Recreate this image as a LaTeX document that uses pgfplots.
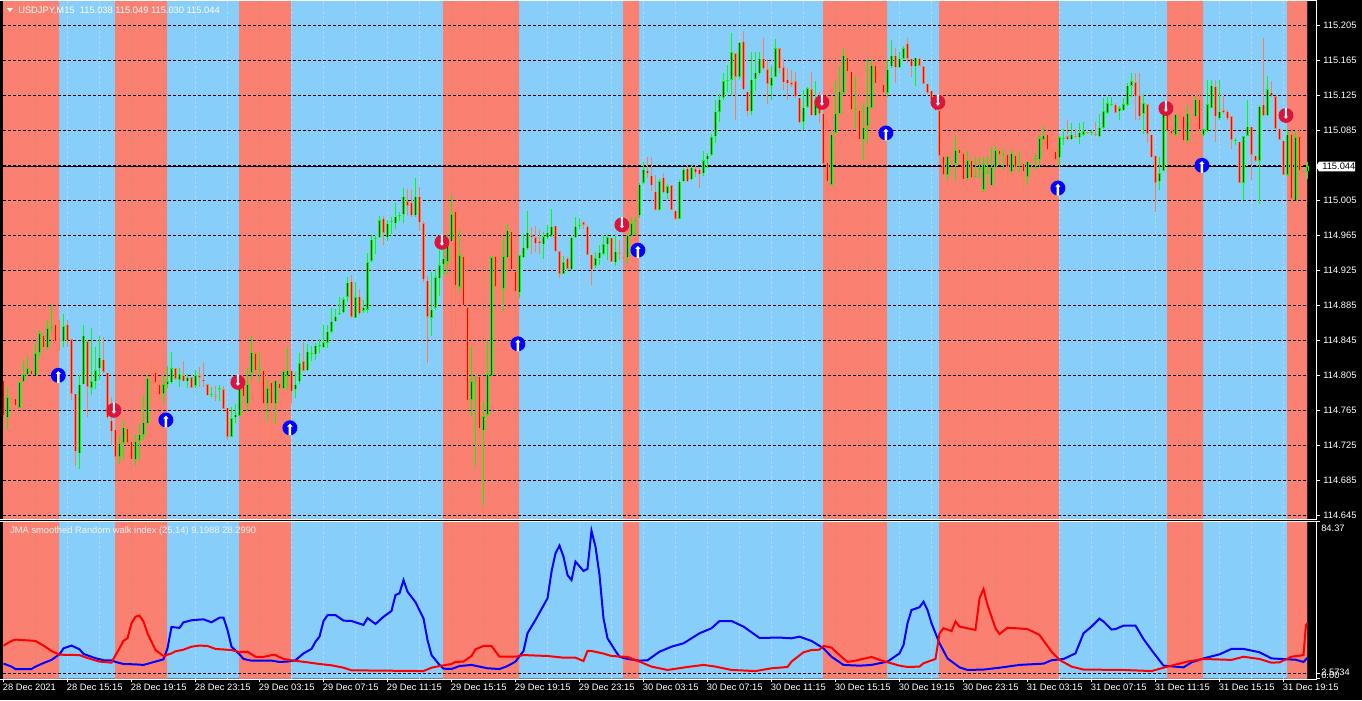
\documentclass[border=0pt]{standalone}
\usepackage{fontspec}
\setmainfont{Liberation Sans}
\usepackage{pgfplots}
\usepackage{pgfplotstable}
\pgfplotsset{compat=1.18}

\definecolor{zonered}{RGB}{250,128,114}
\definecolor{zoneblue}{RGB}{135,206,250}
\definecolor{bull}{RGB}{0,255,0}
\definecolor{bullcore}{RGB}{0,60,0}
\definecolor{bear}{RGB}{255,127,80}
\definecolor{bearcore}{RGB}{255,0,0}
\definecolor{sigblue}{RGB}{0,0,255}
\definecolor{sigred}{RGB}{220,20,60}
\definecolor{vgridred}{RGB}{222,132,118}
\definecolor{vgridblue}{RGB}{172,216,250}

% signal arrows, 1px = 0.75pt
\pgfdeclareplotmark{sigup}{%
  \pgfsetfillcolor{sigblue}\pgfpathcircle{\pgfpointorigin}{5.6pt}\pgfusepathqfill
  \pgfsetfillcolor{white}%
  \pgfpathmoveto{\pgfpoint{0pt}{3.2pt}}\pgfpathlineto{\pgfpoint{2pt}{1pt}}%
  \pgfpathlineto{\pgfpoint{0.9pt}{1pt}}\pgfpathlineto{\pgfpoint{0.9pt}{-5.7pt}}%
  \pgfpathlineto{\pgfpoint{-0.9pt}{-5.7pt}}\pgfpathlineto{\pgfpoint{-0.9pt}{1pt}}%
  \pgfpathlineto{\pgfpoint{-2pt}{1pt}}\pgfpathclose\pgfusepathqfill}
\pgfdeclareplotmark{sigdn}{%
  \pgfsetfillcolor{sigred}\pgfpathcircle{\pgfpointorigin}{5.6pt}\pgfusepathqfill
  \pgfsetfillcolor{white}%
  \pgfpathmoveto{\pgfpoint{0pt}{-2.6pt}}\pgfpathlineto{\pgfpoint{1.6pt}{-0.8pt}}%
  \pgfpathlineto{\pgfpoint{0.8pt}{-0.8pt}}\pgfpathlineto{\pgfpoint{0.8pt}{5.7pt}}%
  \pgfpathlineto{\pgfpoint{-0.8pt}{5.7pt}}\pgfpathlineto{\pgfpoint{-0.8pt}{-0.8pt}}%
  \pgfpathlineto{\pgfpoint{-1.6pt}{-0.8pt}}\pgfpathclose\pgfusepathqfill}

\newcommand{\lab}{\fontsize{7}{8}\selectfont}

% red zones of the background: bar index, 1 = red
\pgfplotstableread{
x r
-0.125 1
13.875 0
27.875 1
40.875 0
58.875 1
71.875 0
109.875 1
128.875 0
154.875 1
158.875 0
204.875 1
220.875 0
233.875 1
263.875 0
290.875 1
299.875 0
320.875 1
325.875 1
}\zones

\pgfplotstableread{
i o h l c
1 114.757 114.792 114.744 114.780
4 114.768 114.799 114.768 114.797
5 114.798 114.821 114.797 114.806
6 114.806 114.827 114.805 114.813
8 114.805 114.842 114.805 114.830
9 114.831 114.857 114.825 114.853
11 114.837 114.868 114.834 114.859
12 114.859 114.885 114.856 114.860
15 114.844 114.875 114.837 114.861
19 114.716 114.805 114.698 114.794
20 114.795 114.863 114.795 114.850
22 114.791 114.859 114.782 114.798
23 114.798 114.837 114.789 114.811
24 114.813 114.850 114.800 114.825
29 114.712 114.736 114.704 114.727
30 114.728 114.753 114.708 114.745
33 114.709 114.738 114.702 114.729
34 114.730 114.748 114.708 114.737
35 114.737 114.781 114.731 114.751
36 114.750 114.805 114.749 114.801
40 114.784 114.805 114.774 114.795
41 114.795 114.816 114.790 114.798
42 114.797 114.832 114.795 114.813
44 114.800 114.813 114.792 114.806
46 114.798 114.806 114.790 114.802
48 114.793 114.811 114.791 114.805
52 114.782 114.792 114.780 114.783
54 114.789 114.794 114.776 114.790
57 114.735 114.769 114.734 114.756
58 114.757 114.772 114.750 114.760
59 114.759 114.796 114.758 114.795
61 114.773 114.813 114.764 114.795
62 114.808 114.850 114.797 114.831
64 114.811 114.831 114.799 114.812
66 114.773 114.801 114.753 114.790
68 114.773 114.799 114.749 114.799
70 114.790 114.811 114.789 114.809
71 114.805 114.837 114.788 114.810
73 114.789 114.809 114.779 114.794
74 114.798 114.830 114.795 114.819
76 114.811 114.841 114.810 114.832
77 114.829 114.839 114.821 114.830
78 114.829 114.842 114.823 114.839
79 114.838 114.846 114.830 114.839
80 114.837 114.862 114.836 114.843
81 114.842 114.862 114.836 114.855
82 114.855 114.882 114.853 114.866
83 114.867 114.881 114.866 114.872
84 114.875 114.894 114.874 114.876
85 114.877 114.895 114.876 114.892
86 114.895 114.917 114.889 114.911
88 114.871 114.912 114.870 114.894
90 114.879 114.891 114.876 114.882
91 114.880 114.945 114.876 114.934
92 114.936 114.965 114.934 114.960
93 114.961 114.965 114.944 114.962
94 114.963 114.987 114.962 114.982
96 114.963 114.982 114.958 114.978
97 114.980 114.986 114.967 114.981
98 114.979 115.002 114.972 114.986
99 114.987 114.992 114.981 114.988
100 114.989 115.019 114.979 115.009
103 114.988 115.030 114.986 115.009
107 114.871 114.923 114.850 114.880
108 114.882 114.927 114.880 114.917
109 114.916 114.948 114.896 114.931
110 114.932 114.954 114.921 114.938
111 114.935 114.967 114.921 114.954
112 114.958 115.011 114.958 114.989
114 114.906 114.971 114.899 114.942
117 114.777 114.838 114.758 114.798
118 114.802 114.805 114.700 114.803
120 114.742 114.775 114.657 114.758
121 114.760 114.845 114.758 114.806
122 114.805 114.941 114.804 114.940
125 114.904 114.962 114.878 114.941
126 114.940 114.978 114.939 114.970
129 114.900 114.943 114.893 114.942
130 114.940 114.967 114.939 114.951
131 114.950 114.993 114.948 114.968
135 114.955 114.969 114.938 114.964
136 114.963 114.977 114.961 114.968
137 114.965 114.995 114.963 114.975
140 114.921 114.941 114.921 114.934
142 114.926 114.963 114.925 114.962
143 114.963 114.986 114.962 114.975
144 114.976 114.985 114.972 114.977
148 114.930 114.946 114.928 114.939
149 114.939 114.954 114.931 114.945
150 114.944 114.965 114.942 114.955
151 114.955 114.965 114.937 114.963
153 114.934 114.967 114.930 114.946
156 114.940 114.965 114.932 114.965
157 114.965 114.986 114.963 114.979
158 114.981 114.986 114.965 114.982
159 114.988 115.025 114.985 115.023
160 115.025 115.049 115.024 115.040
164 114.994 115.029 114.993 115.027
166 115.013 115.024 115.007 115.021
169 114.984 115.028 114.984 115.026
170 115.027 115.042 115.026 115.040
172 115.029 115.045 115.028 115.042
175 115.036 115.061 115.033 115.051
176 115.052 115.059 115.042 115.056
177 115.057 115.081 115.056 115.077
178 115.078 115.120 115.070 115.106
179 115.106 115.127 115.095 115.120
180 115.122 115.150 115.120 115.141
181 115.141 115.160 115.129 115.142
182 115.143 115.196 115.125 115.174
184 115.146 115.186 115.144 115.185
187 115.107 115.175 115.102 115.143
188 115.144 115.174 115.130 115.151
189 115.150 115.174 115.148 115.167
192 115.136 115.158 115.120 115.145
193 115.146 115.189 115.146 115.179
200 115.095 115.131 115.085 115.111
201 115.112 115.134 115.111 115.133
203 115.102 115.141 115.101 115.120
207 115.023 115.081 115.022 115.080
208 115.082 115.141 115.081 115.104
209 115.104 115.158 115.104 115.129
210 115.128 115.179 115.127 115.170
213 115.109 115.147 115.087 115.110
215 115.075 115.116 115.051 115.088
216 115.090 115.167 115.070 115.112
217 115.111 115.167 115.110 115.159
221 115.128 115.165 115.123 115.154
222 115.158 115.188 115.156 115.170
224 115.157 115.175 115.156 115.167
225 115.167 115.181 115.166 115.179
228 115.158 115.168 115.136 115.168
236 115.034 115.056 115.028 115.055
238 115.047 115.078 115.027 115.062
241 115.030 115.061 115.028 115.051
243 115.032 115.055 115.032 115.033
244 115.041 115.054 115.030 115.042
245 115.017 115.055 115.015 115.046
246 115.036 115.056 115.036 115.037
247 115.022 115.066 115.022 115.042
248 115.043 115.067 115.041 115.062
250 115.057 115.064 115.040 115.058
252 115.038 115.064 115.036 115.058
254 115.044 115.061 115.037 115.045
256 115.032 115.049 115.024 115.049
258 115.052 115.059 115.040 115.053
259 115.052 115.080 115.043 115.076
260 115.075 115.090 115.074 115.079
264 115.054 115.079 115.043 115.077
265 115.075 115.087 115.068 115.076
267 115.075 115.093 115.074 115.080
269 115.077 115.093 115.069 115.082
270 115.080 115.094 115.078 115.084
272 115.082 115.085 115.080 115.083
274 115.078 115.104 115.077 115.088
275 115.088 115.122 115.087 115.107
276 115.105 115.123 115.104 115.116
277 115.114 115.123 115.113 115.115
279 115.107 115.113 115.097 115.110
280 115.108 115.122 115.107 115.115
281 115.114 115.139 115.113 115.136
282 115.136 115.150 115.123 115.141
285 115.104 115.127 115.081 115.116
289 115.027 115.054 115.017 115.036
290 115.039 115.105 115.038 115.104
293 115.080 115.104 115.079 115.103
296 115.073 115.114 115.072 115.104
298 115.101 115.125 115.100 115.120
300 115.080 115.087 115.079 115.086
301 115.085 115.143 115.083 115.115
302 115.111 115.143 115.110 115.136
304 115.099 115.143 115.097 115.106
308 115.073 115.076 115.068 115.074
310 115.025 115.078 115.005 115.078
311 115.079 115.120 115.078 115.089
314 115.050 115.114 115.001 115.112
316 115.102 115.147 115.101 115.132
321 115.034 115.087 115.033 115.080
323 115.005 115.085 115.005 115.077
325 115.037 115.039 115.037 115.038
326 115.038 115.049 115.029 115.044
}\upbars

\pgfplotstableread{
i o h l c
0 114.799 114.799 114.759 114.759
2 114.778 114.780 114.773 114.777
3 114.778 114.780 114.746 114.770
7 114.811 114.811 114.806 114.806
10 114.851 114.851 114.837 114.837
13 114.863 114.863 114.844 114.844
14 114.845 114.868 114.833 114.844
16 114.863 114.868 114.837 114.845
17 114.846 114.846 114.777 114.784
18 114.784 114.784 114.701 114.718
21 114.844 114.844 114.757 114.792
25 114.823 114.849 114.808 114.809
26 114.808 114.808 114.755 114.757
27 114.753 114.780 114.725 114.741
28 114.743 114.743 114.712 114.712
31 114.744 114.744 114.727 114.728
32 114.729 114.729 114.702 114.709
37 114.798 114.820 114.773 114.797
38 114.808 114.818 114.784 114.797
39 114.795 114.800 114.775 114.783
43 114.813 114.813 114.800 114.801
45 114.805 114.821 114.798 114.798
47 114.803 114.803 114.790 114.791
49 114.805 114.814 114.792 114.802
50 114.800 114.820 114.792 114.798
51 114.795 114.795 114.782 114.782
53 114.781 114.793 114.776 114.780
55 114.789 114.793 114.767 114.767
56 114.768 114.768 114.731 114.735
60 114.795 114.797 114.781 114.781
63 114.830 114.830 114.811 114.811
65 114.810 114.810 114.771 114.773
67 114.797 114.797 114.734 114.773
69 114.796 114.796 114.790 114.790
72 114.810 114.810 114.773 114.787
75 114.821 114.843 114.810 114.810
87 114.912 114.920 114.871 114.872
89 114.895 114.904 114.874 114.876
95 114.984 114.987 114.954 114.968
101 115.004 115.018 114.988 114.999
102 115.002 115.017 114.986 114.988
104 115.009 115.020 114.970 114.980
105 114.979 114.981 114.912 114.915
106 114.913 114.918 114.819 114.872
113 114.992 114.992 114.857 114.908
115 114.941 114.941 114.876 114.885
116 114.883 114.883 114.735 114.776
119 114.804 114.804 114.716 114.744
123 114.941 114.941 114.906 114.906
124 114.906 114.907 114.887 114.905
127 114.969 114.969 114.910 114.926
128 114.924 114.924 114.899 114.901
132 114.965 114.975 114.944 114.963
133 114.963 114.976 114.946 114.956
134 114.958 114.971 114.944 114.956
138 114.976 114.976 114.947 114.947
139 114.947 114.947 114.916 114.921
141 114.938 114.940 114.925 114.927
145 114.980 114.981 114.972 114.977
146 114.975 114.977 114.942 114.943
147 114.943 114.943 114.908 114.926
152 114.962 114.962 114.935 114.935
154 114.945 114.960 114.937 114.944
155 114.940 114.941 114.938 114.939
161 115.039 115.054 115.030 115.036
162 115.033 115.055 115.016 115.022
163 115.015 115.034 114.993 114.994
165 115.031 115.036 115.013 115.014
167 115.022 115.022 114.994 114.994
168 114.993 114.993 114.983 114.984
171 115.041 115.045 115.026 115.027
173 115.041 115.045 115.032 115.037
174 115.040 115.042 115.019 115.035
183 115.173 115.173 115.097 115.146
185 115.186 115.199 115.131 115.132
186 115.129 115.129 115.101 115.107
190 115.167 115.191 115.154 115.156
191 115.155 115.167 115.115 115.138
194 115.179 115.179 115.150 115.156
195 115.157 115.167 115.131 115.140
196 115.143 115.156 115.120 115.139
197 115.140 115.154 115.135 115.137
198 115.141 115.152 115.122 115.124
199 115.122 115.122 115.093 115.094
202 115.132 115.152 115.101 115.102
204 115.118 115.129 115.093 115.104
205 115.104 115.104 115.047 115.047
206 115.048 115.048 115.009 115.027
211 115.168 115.183 115.151 115.152
212 115.152 115.152 115.097 115.109
214 115.108 115.135 115.074 115.075
218 115.159 115.181 115.139 115.139
219 115.138 115.159 115.137 115.137
220 115.137 115.137 115.128 115.128
223 115.170 115.179 115.139 115.157
226 115.184 115.190 115.162 115.167
227 115.167 115.167 115.146 115.158
229 115.167 115.168 115.159 115.159
230 115.158 115.159 115.138 115.138
231 115.138 115.138 115.127 115.128
232 115.130 115.130 115.119 115.120
233 115.120 115.120 115.108 115.108
234 115.108 115.108 115.056 115.056
235 115.055 115.055 115.035 115.035
237 115.050 115.050 115.049 115.049
239 115.063 115.074 115.059 115.059
240 115.059 115.059 115.029 115.029
242 115.051 115.051 115.031 115.031
249 115.062 115.064 115.056 115.057
251 115.057 115.059 115.022 115.042
253 115.056 115.056 115.043 115.043
255 115.047 115.047 115.015 115.038
257 115.052 115.055 115.043 115.051
261 115.080 115.080 115.063 115.063
262 115.062 115.064 115.051 115.061
263 115.061 115.061 115.044 115.052
266 115.078 115.097 115.074 115.075
268 115.078 115.087 115.076 115.077
271 115.083 115.083 115.081 115.082
273 115.081 115.095 115.078 115.080
278 115.114 115.116 115.105 115.105
283 115.140 115.151 115.097 115.124
284 115.125 115.150 115.097 115.101
286 115.115 115.115 115.070 115.081
287 115.080 115.080 115.054 115.054
288 115.056 115.056 114.992 115.025
291 115.105 115.105 115.085 115.085
292 115.085 115.085 115.081 115.081
294 115.101 115.120 115.100 115.100
295 115.101 115.103 115.073 115.073
297 115.102 115.102 115.101 115.101
299 115.120 115.125 115.076 115.086
303 115.135 115.143 115.072 115.101
305 115.108 115.127 115.104 115.106
306 115.106 115.108 115.097 115.099
307 115.101 115.101 115.064 115.074
309 115.072 115.072 115.025 115.025
312 115.089 115.089 115.028 115.057
313 115.056 115.056 115.049 115.050
315 115.114 115.190 115.101 115.102
317 115.128 115.141 115.123 115.125
318 115.124 115.124 115.087 115.087
319 115.087 115.087 115.074 115.074
320 115.073 115.073 115.034 115.034
322 115.080 115.080 115.007 115.007
324 115.078 115.091 115.038 115.039
}\dnbars

\pgfplotstableread{
i v
0 8.0
2 6.4
3 5.1
7 5.1
8 6.4
10 8.3
12 10.0
14 13.0
15 16.2
17 17.7
19 15.7
20 13.2
23 10.9
25 9.8
27 9.8
28 8.9
30 7.8
33 7.6
35 7.3
37 8.5
40 10.3
41 16.2
42 27.7
44 27.2
45 30.2
47 31.3
50 31.8
52 30.2
54 32.7
55 32.7
56 26.1
57 17.1
59 13.0
60 10.5
62 9.6
67 9.6
69 8.9
71 9.1
73 9.8
75 13.5
77 15.9
78 19.8
79 22.5
80 30.9
81 34.0
83 34.1
85 31.1
87 30.9
90 28.8
91 32.5
93 29.3
95 33.2
97 36.3
98 44.9
99 45.8
100 52.9
101 46.7
103 41.0
105 32.3
106 20.7
107 12.6
109 7.3
110 5.3
112 5.1
114 6.7
117 7.3
121 5.5
124 5.1
126 6.7
128 9.1
130 14.8
131 24.3
133 31.5
136 43.1
137 57.4
138 67.3
139 71.4
140 65.5
141 55.6
142 52.9
143 62.8
145 57.8
146 58.9
147 79.4
148 70.8
149 55.6
150 32.3
151 21.6
153 14.8
154 11.7
156 10.5
159 9.6
161 9.8
164 14.4
167 17.1
170 18.9
174 24.3
177 27.0
179 30.9
182 30.9
185 27.9
189 21.8
194 22.0
197 21.6
199 22.5
202 20.2
205 16.2
207 11.7
210 7.3
214 6.9
217 7.3
221 9.1
224 13.5
225 18.0
226 29.7
227 36.8
229 38.3
230 41.3
231 36.8
232 29.7
234 18.9
236 10.8
239 6.0
241 4.6
245 4.8
249 5.8
254 7.3
260 8.0
262 9.8
265 10.5
268 13.5
270 24.3
272 27.9
274 32.2
275 30.6
277 26.3
278 26.6
280 28.4
283 28.4
285 21.2
287 15.3
290 6.9
295 6.0
297 8.7
300 10.8
304 13.0
307 15.9
310 15.9
314 14.1
317 10.8
323 10.1
325 8.9
326 11.2
}\rwiblue

\pgfplotstableread{
i v
0 17.7
2 20.2
3 20.9
6 20.5
8 20.2
10 17.7
12 14.8
14 12.8
19 12.6
21 11.0
24 9.1
27 8.5
28 12.6
29 16.2
30 20.3
31 21.6
32 29.7
33 33.2
34 33.8
35 30.6
36 24.3
38 15.3
40 12.1
42 13.5
43 14.6
45 15.5
47 17.1
49 17.7
51 17.5
53 15.9
57 15.3
59 14.2
61 14.4
63 11.7
65 11.6
67 12.6
68 12.6
70 10.5
72 9.8
76 8.7
79 7.8
82 7.1
85 5.8
87 4.4
105 4.0
107 5.8
109 6.7
112 7.8
113 8.9
115 9.1
117 12.1
118 15.7
120 17.5
122 17.5
124 11.7
128 11.7
130 12.6
136 12.1
140 11.2
143 11.2
145 9.4
146 14.8
147 14.8
150 13.4
152 12.1
156 11.6
159 9.1
162 6.4
166 4.6
171 6.2
175 7.3
178 6.4
182 4.6
188 4.0
192 5.5
196 6.2
197 9.1
200 14.1
202 15.3
204 15.5
205 17.5
207 16.6
209 12.6
211 8.9
213 9.6
217 11.6
219 10.0
224 6.9
226 6.2
229 6.4
230 8.2
233 10.5
234 24.3
235 27.0
237 25.5
238 30.6
239 27.9
243 26.1
244 43.1
245 48.1
246 39.5
248 27.0
249 23.9
251 27.3
256 26.6
259 23.4
262 14.4
264 10.0
267 6.4
270 4.8
280 4.6
287 4.0
291 6.4
296 9.1
300 10.5
307 10.0
310 11.7
314 10.5
317 8.5
319 8.7
322 11.7
325 12.6
325.6 28.8
326 29.7
}\rwired

% background shared by both panels: #1 = ymin, #2 = ymax
\newcommand{\panelback}[2]{%
  \addplot[const plot, fill=zoneblue, draw=none, forget plot]
    coordinates {(-0.125,#2)(325.875,#2)} \closedcycle;
  \addplot[const plot, fill=zonered, draw=none, forget plot]
    table[x=x, y expr={\thisrow{r}>0 ? #2 : #1}] {\zones} \closedcycle;
  \pgfplotsinvokeforeach{8,32,40,64,112,120,128,208,216,240,248,256,296}{
    \addplot[vgridred, line width=0.75pt, dash pattern=on 2.25pt off 1.5pt, forget plot]
      coordinates {(##1,#1)(##1,#2)};
  }
  \pgfplotsinvokeforeach{16,24,48,56,72,80,88,96,104,136,144,152,160,168,176,184,192,200,224,232,264,272,280,288,304,312,320}{
    \addplot[vgridblue, line width=0.75pt, dash pattern=on 2.25pt off 1.5pt, forget plot]
      coordinates {(##1,#1)(##1,#2)};
  }
}

\pgfplotsset{
  panel/.style={
    scale only axis, width=985.5pt,
    xmin=-0.125, xmax=328.375,
    anchor=south west,
    axis line style={draw=none},
    tick style={white, line width=0.75pt},
    major tick length=2.6pt,
    tick align=outside,
    tick label style={font=\lab, text=white, inner sep=0pt},
    /pgf/number format/assume math mode=true,
  },
  candle/.style 2 args={only marks, mark size=0pt, mark options={draw=none, fill=none}, forget plot,
    error bars/y dir=plus, error bars/y explicit, error bars/error mark=none,
    error bars/error bar style={line width=#1, color=#2}},
}

\begin{document}
\begin{tikzpicture}[x=0.75pt,y=-0.75pt]
\path[use as bounding box, fill=black] (0,0) rectangle (1362,700);

\begin{axis}[panel,
    at={(2.25pt,-389.25pt)}, height=388.5pt,
    ymin=114.6408, ymax=115.2328,
    xtick=\empty,
    ytick={114.645,114.685,114.725,114.765,114.805,114.845,114.885,114.925,114.965,115.005,115.085,115.125,115.165,115.205},
    ytick pos=right, yticklabel pos=right,
    yticklabel style={anchor=west, xshift=2pt,
      /pgf/number format/.cd, fixed, fixed zerofill, precision=3, 1000 sep={}},
  ]
  \panelback{114.6408}{115.2328}
  \pgfplotsinvokeforeach{114.645,114.685,114.725,114.765,114.805,114.845,114.885,114.925,114.965,115.005,115.045,115.085,115.125,115.165,115.205}{
    \addplot[black, line width=0.75pt, dash pattern=on 2.25pt off 1.5pt, forget plot]
      coordinates {(-0.125,#1)(325.875,#1)};
  }
  \addplot[black, line width=0.75pt, forget plot] coordinates {(-0.125,115.044)(325.875,115.044)};

  % wicks
  \addplot[candle={0.75pt}{bull}]
    table[x=i, y=l, y error expr=\thisrow{h}-\thisrow{l}] {\upbars};
  \addplot[candle={0.75pt}{bear}]
    table[x=i, y=l, y error expr=\thisrow{h}-\thisrow{l}] {\dnbars};
  % bodies
  \addplot[candle={2.25pt}{bull}]
    table[x=i, y=o, y error expr={max(\thisrow{c}-\thisrow{o},0.0012)}] {\upbars};
  \addplot[candle={2.25pt}{bear}]
    table[x=i, y=c, y error expr={max(\thisrow{o}-\thisrow{c},0.0012)}] {\dnbars};
  \addplot[candle={0.75pt}{bullcore}]
    table[x=i, y expr=\thisrow{o}+0.0006, y error expr={max(\thisrow{c}-\thisrow{o}-0.0012,0)}] {\upbars};
  \addplot[candle={0.75pt}{bearcore}]
    table[x=i, y expr=\thisrow{c}+0.0006, y error expr={max(\thisrow{o}-\thisrow{c}-0.0012,0)}] {\dnbars};

  \addplot[only marks, mark=sigup, forget plot] coordinates {
    (13.7,114.805)(40.6,114.754)(71.6,114.745)(128.6,114.841)
    (158.6,114.948)(220.6,115.082)(263.6,115.019)(299.6,115.045)};
  \addplot[only marks, mark=sigdn, forget plot] coordinates {
    (27.6,114.765)(58.6,114.797)(109.6,114.957)(154.6,114.977)
    (204.6,115.117)(233.6,115.117)(290.6,115.110)(320.6,115.102)};
\end{axis}

\begin{axis}[panel,
    at={(2.25pt,-508.875pt)}, height=117.75pt,
    ymin=0, ymax=84.37,
    xtick={0,16,...,320},
    xticklabels={28 Dec 2021,28 Dec 15:15,28 Dec 19:15,28 Dec 23:15,29 Dec 03:15,29 Dec 07:15,29 Dec 11:15,29 Dec 15:15,29 Dec 19:15,29 Dec 23:15,30 Dec 03:15,30 Dec 07:15,30 Dec 11:15,30 Dec 15:15,30 Dec 19:15,30 Dec 23:15,31 Dec 03:15,31 Dec 07:15,31 Dec 11:15,31 Dec 15:15,31 Dec 19:15},
    xticklabel style={anchor=north west, xshift=-0.6pt, yshift=-1.4pt},
    ytick={0,2.5734,84.37}, yticklabels={,,},
    ytick pos=right, xtick pos=bottom,
  ]
  \panelback{0}{84.37}
  \addplot[black, line width=0.75pt, dash pattern=on 2.25pt off 1.5pt, forget plot]
    coordinates {(-0.125,2.5734)(325.875,2.5734)};
  \addplot[blue, line width=1.5pt, forget plot] table[x=i, y=v] {\rwiblue};
  \addplot[red, line width=1.5pt, forget plot] table[x=i, y=v] {\rwired};
\end{axis}

% frame lines of the two panels
\draw[white, line width=0.75pt] (0,0.5) -- (1316.5,0.5) -- (1316.5,519.8) -- (0,519.8);
\draw[white, line width=0.75pt] (0,521.6) -- (1316.5,521.6) -- (1316.5,679) -- (0,679);

% titles and scale labels
\fill[white] (7,8) -- (13,8) -- (10,12) -- cycle;
\node[anchor=west, inner sep=0pt, text=white, font=\lab] at (18,10.5) {USDJPY,M15\ \ 115.038 115.049 115.030 115.044};
\node[anchor=west, inner sep=0pt, text=white!90!gray, font=\lab] at (10,531) {JMA smoothed Random walk index (25,14) 9.1988 28.2990};
\node[anchor=west, inner sep=0pt, text=white, font=\lab] at (1321,528) {84.37};
\node[anchor=west, inner sep=0pt, text=white, font=\lab] at (1321,672.7) {2.5734};
\node[anchor=west, inner sep=0pt, text=white, font=\lab] at (1321,675.5) {0.00};

% current price flag
\fill[white] (1316,166.5) -- (1319,161.7) -- (1355,161.7) -- (1355,171.3) -- (1319,171.3) -- cycle;
\node[anchor=west, inner sep=0pt, text=black, font=\lab] at (1322,166.5) {115.044};
\end{tikzpicture}
\end{document}
